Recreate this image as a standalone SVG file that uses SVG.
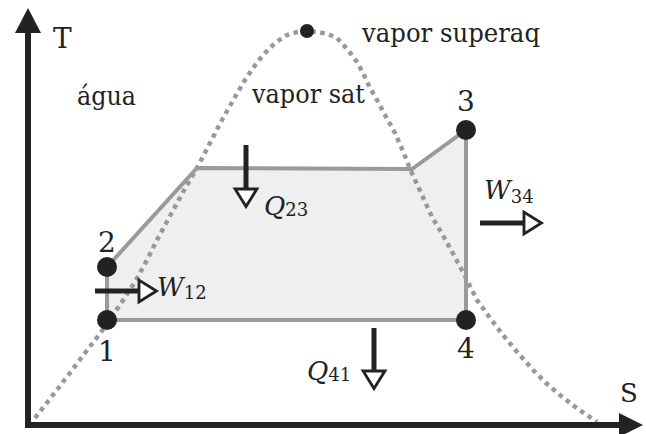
<svg xmlns="http://www.w3.org/2000/svg" width="646" height="434" viewBox="0 0 646 434">
<style>
text{font-family:'DejaVu Serif',serif;font-size:26px;fill:#222}
.num{font-size:28px}
.it{font-style:italic}
.sub{font-size:18px;font-style:normal}
.dome{fill:none;stroke:#999;stroke-width:4.5;stroke-dasharray:4.5 4.5}
.cyc{fill:none;stroke:#9a9a9a;stroke-width:4;stroke-linejoin:miter}
.pt{fill:#222}
.shaft{stroke:#222;stroke-width:5;fill:none;marker-end:url(#open)}
.axis{stroke:#222;stroke-width:6}
</style>
<defs>
<marker id="open" markerUnits="userSpaceOnUse" markerWidth="24" markerHeight="28" viewBox="-2 -12 22 24" refX="0" refY="0" orient="auto" overflow="visible">
<path d="M0,-10 L16,0 L0,10 Z" fill="#fff" stroke="#222" stroke-width="2.6" stroke-linejoin="miter"/>
</marker>
</defs>
<rect width="646" height="434" fill="#fff"/>
<g id="cycle-fill">
<polygon points="107,320 107,267 197,168 412,169 466,130 466,320" fill="#efefef"/>
</g>
<g id="dome">
<path class="dome" d="M35,418 L60,386 L85,353 L102,331 L120,305 L135,282 L147,260 L157,240 L170,216 L183,192 L197,168 L210,143 L222,120 L235,97 L245,80 L253,68 L263,55 L275,43 L287,35 L297,32 L307,31 L318,32 L328,34 L337,38 L348,50 L357,62 L363,73 L370,88 L377,100 L385,115 L395,133 L403,151 L410,169 L421,193 L432,217 L441,232 L450,248 L464,274 L477,300 L490,318 L503,335 L518,353 L533,370 L546,383 L560,395 L578,409 L597,422"/>
</g>
<g id="axes">
<line class="axis" x1="28" y1="428" x2="28" y2="30"/>
<polygon points="15,33 28,8 41,33" fill="#222"/>
<line class="axis" x1="25" y1="425" x2="621" y2="425"/>
<polygon points="619,413 643,425 619,437" fill="#222"/>
<text x="53" y="48" class="num">T</text>
<text x="620" y="402">S</text>
</g>
<g id="connectors">
<polygon class="cyc" points="107,320 107,267 197,168 412,169 466,130 466,320"/>
</g>
<g id="regions">
<text x="77" y="105" textLength="59" lengthAdjust="spacingAndGlyphs">água</text>
<text x="252" y="103" textLength="113" lengthAdjust="spacingAndGlyphs">vapor sat</text>
<text x="362" y="42" textLength="178" lengthAdjust="spacingAndGlyphs">vapor superaq</text>
</g>
<g id="peak"><circle class="pt" cx="307" cy="31" r="7"/></g>
<g id="p1"><circle class="pt" cx="107" cy="320" r="10"/><text class="num" x="107" y="361" text-anchor="middle">1</text></g>
<g id="p2"><circle class="pt" cx="107" cy="267" r="10"/><text class="num" x="107" y="252" text-anchor="middle">2</text></g>
<g id="p3"><circle class="pt" cx="466" cy="130" r="10"/><text class="num" x="466" y="111" text-anchor="middle">3</text></g>
<g id="p4"><circle class="pt" cx="466" cy="320" r="10"/><text class="num" x="466" y="358" text-anchor="middle">4</text></g>
<g id="W12">
<line class="shaft" x1="95" y1="291" x2="139" y2="291"/>
<text x="157" y="296"><tspan class="it">W</tspan><tspan class="sub" dy="3">12</tspan></text>
</g>
<g id="Q23">
<line class="shaft" x1="246" y1="145" x2="246" y2="189"/>
<text x="264" y="215"><tspan class="it">Q</tspan><tspan class="sub" dy="1">23</tspan></text>
</g>
<g id="W34">
<line class="shaft" x1="480" y1="223" x2="524" y2="223"/>
<text x="484" y="199"><tspan class="it">W</tspan><tspan class="sub" dy="4">34</tspan></text>
</g>
<g id="Q41">
<line class="shaft" x1="374" y1="328" x2="374" y2="371"/>
<text x="307" y="380"><tspan class="it">Q</tspan><tspan class="sub" dy="1">41</tspan></text>
</g>
</svg>
